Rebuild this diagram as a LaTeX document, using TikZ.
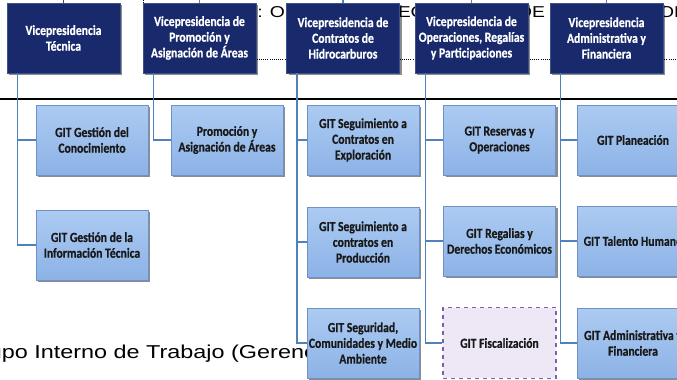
\documentclass[tikz,border=0pt]{standalone}
\usepackage{fontspec}
\usetikzlibrary{shadows}
\newfontfamily\boxfont[FakeStretch=0.84, BoldFeatures={FakeBold=0.6}]{Carlito}
\newfontfamily\bgfont[FakeStretch=1.23]{Liberation Sans}
\newfontfamily\bgfontb[FakeStretch=1.254]{Liberation Sans}
\definecolor{navy}{RGB}{24,42,108}
\definecolor{navyedge}{RGB}{60,80,140}
\definecolor{lbtop}{RGB}{172,203,242}
\definecolor{lbbot}{RGB}{140,178,230}
\definecolor{lbedge}{RGB}{110,145,200}
\definecolor{connc}{RGB}{79,129,189}
\definecolor{fisfill}{RGB}{238,232,246}
\definecolor{fisedge}{RGB}{128,100,162}
\tikzset{
  vpbox/.style={fill=navy, draw=navyedge, line width=0.5pt, minimum width=84.75pt, minimum height=52.5pt,
    inner sep=0pt, align=center, text=white,
    font=\boxfont\bfseries\fontsize{10.4}{11.8}\selectfont,
    drop shadow={shadow xshift=1.8pt, shadow yshift=-1.8pt, fill=black, opacity=0.45}},
  gitbox/.style={top color=lbtop, bottom color=lbbot, draw=lbedge, line width=0.6pt, minimum width=84pt, minimum height=52.5pt,
    inner sep=0pt, align=center, text=black!90,
    font=\boxfont\bfseries\fontsize{10.4}{11.8}\selectfont,
    drop shadow={shadow xshift=1.8pt, shadow yshift=-1.8pt, fill=black, opacity=0.45}},
  fisbox/.style={fill=fisfill, draw=fisedge, dashed, line width=0.9pt, minimum width=84.75pt, minimum height=53pt,
    inner sep=0pt, align=center, text=black!90,
    font=\boxfont\bfseries\fontsize{10.4}{11.8}\selectfont},
  conn/.style={draw=connc, line width=1.1pt},
}
\begin{document}
\begin{tikzpicture}[x=0.75pt,y=-0.75pt]
\useasboundingbox (0,0) rectangle (677,379);
\clip (0,0) rectangle (677,379);
% background page elements
\node[anchor=base west, inner sep=0pt, font=\bgfont\fontsize{11.8}{14}\selectfont] (toptext) at (257,17) {: OFICINA DE TECNOLOGIA DE INFORMACION};
\node[anchor=base west, inner sep=0pt, font=\bgfontb\fontsize{14}{16}\selectfont] (bottext) at (1.5,358) {\llap{Gru}po Interno de Trabajo (Gerencia)};
\draw[densely dotted, line width=0.6pt] (143,0) -- (143,59) -- (677,59);
\draw[line width=0.9pt] (0,99) -- (677,99);

% top boxes
\node[vpbox] (v1) at (63.5,38) {Vicepresidencia\\Técnica};
\node[vpbox] (v2) at (199.5,38) {Vicepresidencia de\\Promoción y\\Asignación de Áreas};
\node[vpbox] (v3) at (343,38) {Vicepresidencia de\\Contratos de\\Hidrocarburos};
\node[vpbox] (v4) at (471.5,38) {Vicepresidencia de\\Operaciones, Regalías\\y Participaciones};
\node[vpbox] (v5) at (606.5,38) {Vicepresidencia\\Administrativa y\\Financiera};

% group boxes
\node[gitbox] (g11) at (92,140) {GIT Gestión del\\Conocimiento};
\node[gitbox] (g12) at (92,245) {GIT Gestión de la\\Información Técnica};
\node[gitbox] (g21) at (227,140) {Promoción y\\Asignación de Áreas};
\node[gitbox] (g31) at (363,140) {GIT Seguimiento a\\Contratos en\\Exploración};
\node[gitbox] (g32) at (363,242) {GIT Seguimiento a\\contratos en\\Producción};
\node[gitbox] (g33) at (363,343) {GIT Seguridad,\\Comunidades y Medio\\Ambiente};
\node[gitbox] (g41) at (499.5,140) {GIT Reservas y\\Operaciones};
\node[gitbox] (g42) at (499.5,241) {GIT Regalias y\\Derechos Económicos};
\node[fisbox] (g43) at (499.5,343) {GIT Fiscalización};
\node[gitbox] (g51) at (633,140) {GIT Planeación};
\node[gitbox] (g52) at (633,241) {GIT Talento Humano};
\node[gitbox] (g53) at (633,343) {GIT Administrativa y\\Financiera};

% trunk start points
\path (v1.south west) ++(11,0) coordinate (t1);
\path (v2.south west) ++(11,0) coordinate (t2);
\path (v3.south west) ++(11,0) coordinate (t3);
\path (v4.south west) ++(11,0) coordinate (t4);
\path (v5.south west) ++(11,0) coordinate (t5);
% incoming lines from above
\coordinate (p1) at (63.5,0);
\coordinate (p2) at (199.5,0);
\coordinate (p3) at (343,0);
\coordinate (p4) at (471.5,0);
\coordinate (p5) at (606.5,0);

\draw[conn, draw=black!70] (p1) -- (v1.north);
\draw[conn] (p2) -- (v2.north);
\draw[conn] (p3) -- (v3.north);
\draw[conn] (p4) -- (v4.north);
\draw[conn] (p5) -- (v5.north);

\draw[conn] (t1) |- (g11.west);
\draw[conn] (t1) |- (g12.west);
\draw[conn] (t2) |- (g21.west);
\draw[conn] (t3) |- (g31.west);
\draw[conn] (t3) |- (g32.west);
\draw[conn] (t3) |- (g33.west);
\draw[conn] (t4) |- (g41.west);
\draw[conn] (t4) |- (g42.west);
\draw[conn] (t4) |- (g43.west);
\draw[conn] (t5) |- (g51.west);
\draw[conn] (t5) |- (g52.west);
\draw[conn] (t5) |- (g53.west);
\end{tikzpicture}
\end{document}
